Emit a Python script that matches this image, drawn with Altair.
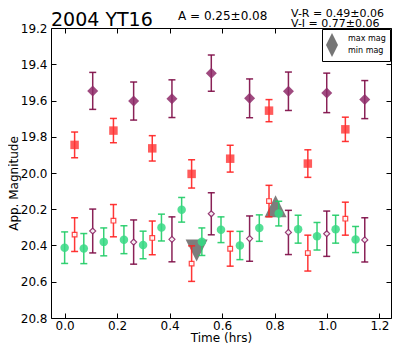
import altair as alt
import pandas as pd

# ---- data ----
t_green = [0.000, 0.073, 0.149, 0.226, 0.299, 0.369, 0.446, 0.523,
           0.596, 0.668, 0.742, 0.816, 0.890, 0.962, 1.033, 1.109]
mag_green = [20.412, 20.417, 20.380, 20.368, 20.397, 20.301, 20.203, 20.379,
             20.313, 20.400, 20.304, 20.224, 20.310, 20.349, 20.310, 20.367]
err_green = [0.087, 0.083, 0.077, 0.077, 0.076, 0.074, 0.068, 0.076,
             0.071, 0.078, 0.073, 0.068, 0.077, 0.076, 0.077, 0.072]

t_red = [0.038, 0.186, 0.334, 0.484, 0.631, 0.779, 0.927, 1.070]
mag_red = [19.845, 19.766, 19.864, 20.005, 19.921, 19.656, 19.948, 19.759]
err_red = [0.071, 0.067, 0.070, 0.078, 0.074, 0.061, 0.076, 0.067]
mag_red_open = [20.340, 20.263, 20.358, 20.500, 20.418, 20.155, 20.442, 20.252]
err_red_open = [0.093, 0.089, 0.093, 0.098, 0.096, 0.087, 0.099, 0.091]

t_purple = [0.107, 0.263, 0.409, 0.559, 0.705, 0.853, 0.999, 1.144]
mag_purple = [19.547, 19.603, 19.590, 19.449, 19.588, 19.549, 19.558, 19.595]
err_purple = [0.102, 0.105, 0.104, 0.100, 0.107, 0.106, 0.109, 0.105]
mag_purple_open = [20.320, 20.381, 20.366, 20.225, 20.362, 20.328, 20.335, 20.369]
err_purple_open = [0.121, 0.122, 0.124, 0.116, 0.125, 0.122, 0.125, 0.122]

ext_type = ["max mag", "min mag"]
ext_time = [0.804, 0.503]
ext_mag = [20.184, 20.427]

x_ticks = [0.0, 0.2, 0.4, 0.6, 0.8, 1.0, 1.2]
y_ticks = [19.2, 19.4, 19.6, 19.8, 20.0, 20.2, 20.4, 20.6, 20.8]

title_text = ["2004 YT16"]
amp_text = ["A  = 0.25\u00b10.08"]
vr_text = ["V-R = 0.49\u00b10.06"]
vi_text = ["V-I  = 0.77\u00b10.06"]

FONT = "DejaVu Sans"
PURPLE = "#8e2a68"
PURPLE_E = "#7d0a45"
RED = "#ff3333"
RED_E = "#ff2020"
GREEN = "#36d984"
GREEN_E = "#1fcc66"

W, H = 340, 290
PAD_L, PAD_T = 43, 20


def frame(t, m, e):
    return pd.DataFrame({
        "t": t, "m": m,
        "lo": [a - b for a, b in zip(m, e)],
        "hi": [a + b for a, b in zip(m, e)],
    })


xs = alt.Scale(domain=[-0.052, 1.244], nice=False, zero=False)
ys = alt.Scale(domain=[19.2, 20.8], reverse=True, nice=False, zero=False)

TICK = 5

X_main = alt.X("t:Q", scale=xs, axis=alt.Axis(
    orient="bottom", values=x_ticks, format=".1f", title="Time (hrs)",
    offset=-TICK, tickSize=TICK, domain=False, grid=False, labelPadding=2,
    titleY=23.5 + TICK, titleBaseline="alphabetic"))
Y_main = alt.Y("m:Q", scale=ys, axis=alt.Axis(
    orient="left", values=y_ticks, format=".1f", title="App. Magnitude",
    offset=-TICK, tickSize=TICK, domain=False, grid=False, labelPadding=4,
    titleX=-34 - TICK, titleY=155, titleAngle=270, titleBaseline="alphabetic",
    titleAlign="center"))
X_top = alt.X("t:Q", scale=xs, axis=alt.Axis(
    orient="top", values=x_ticks, labels=False, title=None,
    offset=-TICK, tickSize=TICK, domain=False, grid=False))
Y_right = alt.Y("m:Q", scale=ys, axis=alt.Axis(
    orient="right", values=y_ticks, labels=False, title=None,
    offset=-TICK, tickSize=TICK, domain=False, grid=False))

Xn = alt.X("t:Q", scale=xs, axis=None)
Yn = alt.Y("m:Q", scale=ys, axis=None)


def errbars(df, color):
    return alt.Chart(df).mark_errorbar(
        color=color, thickness=1.5, opacity=0.9, ticks={"size": 7}
    ).encode(x=Xn, y=alt.Y("lo:Q", scale=ys, axis=None), y2="hi:Q")


df_g = frame(t_green, mag_green, err_green)
df_r = frame(t_red, mag_red, err_red)
df_ro = frame(t_red, mag_red_open, err_red_open)
df_p = frame(t_purple, mag_purple, err_purple)
df_po = frame(t_purple, mag_purple_open, err_purple_open)
df_ext = pd.DataFrame({"type": ext_type, "t": ext_time, "m": ext_mag})

up_path = "M0,-1L1,1L-1,1Z"
down_path = "M-1,-1L1,-1L0,1Z"

axes_main = alt.Chart(df_g).mark_point(opacity=0).encode(x=X_main, y=Y_main)
axes_mirror = alt.Chart(df_g).mark_point(opacity=0).encode(x=X_top, y=Y_right)

tri = alt.Chart(df_ext).mark_point(
    filled=True, size=484, color="#666666", opacity=0.85, strokeWidth=0
).encode(
    x=Xn, y=Yn,
    shape=alt.Shape("type:N", scale=alt.Scale(domain=ext_type, range=[up_path, down_path]),
                    legend=alt.Legend(
                        title=None, orient="top-right", offset=1, padding=4,
                        fillColor="white", strokeColor="black", cornerRadius=0,
                        symbolSize=144, symbolFillColor="#8a8a8a", symbolStrokeWidth=0,
                        symbolOpacity=0.9, labelFontSize=8, labelFont=FONT,
                        labelColor="black", labelOffset=10, rowPadding=0)))

g_pts = alt.Chart(df_g).mark_point(filled=True, shape="circle", size=72,
                                   color=GREEN, opacity=0.85).encode(x=Xn, y=Yn)
r_pts = alt.Chart(df_r).mark_point(filled=True, shape="square", size=72,
                                   color=RED, opacity=0.8).encode(x=Xn, y=Yn)
ro_pts = alt.Chart(df_ro).mark_point(filled=True, shape="square", size=22,
                                     fill="white", stroke=RED, strokeWidth=1.2,
                                     opacity=0.9).encode(x=Xn, y=Yn)
p_pts = alt.Chart(df_p).mark_point(filled=True, shape="diamond", size=121,
                                   color=PURPLE, opacity=0.85).encode(x=Xn, y=Yn)
po_pts = alt.Chart(df_po).mark_point(filled=True, shape="diamond", size=36,
                                     fill="white", stroke=PURPLE, strokeWidth=1.2,
                                     opacity=0.9).encode(x=Xn, y=Yn)


def label(txt, x, y, size, align="left"):
    return alt.Chart(pd.DataFrame({"s": txt})).mark_text(
        font=FONT, fontSize=size, color="black", align=align, baseline="alphabetic"
    ).encode(x=alt.value(x), y=alt.value(y), text="s:N")


chart = alt.layer(
    axes_main, axes_mirror,
    tri,
    errbars(df_g, GREEN_E), g_pts,
    errbars(df_ro, RED_E), ro_pts,
    errbars(df_po, PURPLE_E), po_pts,
    errbars(df_r, RED_E), r_pts,
    errbars(df_p, PURPLE_E), p_pts,
    label(title_text, 0, -2.5, 19),
    label(amp_text, 127, -8.5, 12),
    label(vr_text, 240, -11, 11),
    label(vi_text, 240, -1, 11),
).resolve_axis(x="independent", y="independent").properties(
    width=W, height=H,
    autosize=alt.AutoSizeParams(type="none"),
    padding={"left": PAD_L, "top": PAD_T, "right": 1, "bottom": 26},
    background="white",
).configure_view(stroke="black", strokeWidth=1).configure_axis(
    labelFont=FONT, titleFont=FONT, labelFontSize=12, titleFontSize=12,
    labelColor="black", titleColor="black", tickColor="black", tickWidth=1,
    titleFontWeight="normal",
)

chart.save("out.html", embed_options={"renderer": "svg", "actions": False})
